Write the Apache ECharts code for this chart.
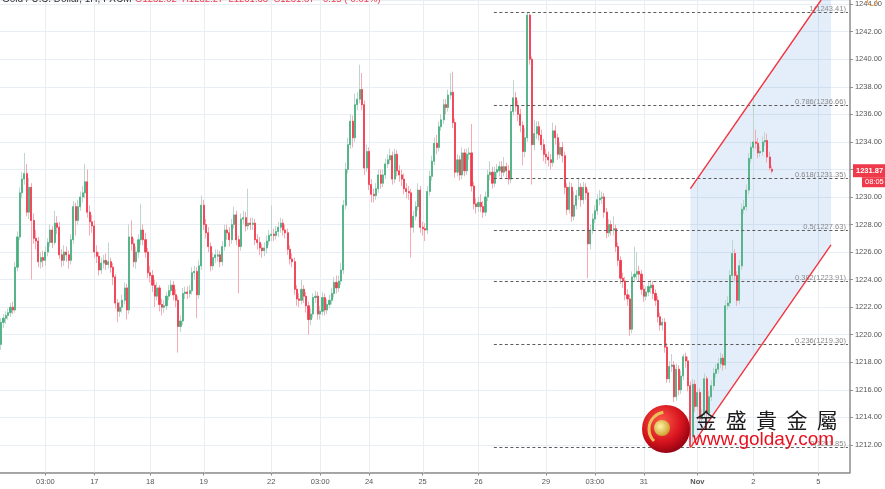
<!DOCTYPE html>
<html><head><meta charset="utf-8">
<script src="https://cdn.jsdelivr.net/npm/echarts@6/dist/echarts.min.js"></script>
<style>html,body{margin:0;padding:0;background:#fff}#c{width:885px;height:489px}</style>
</head><body><div id="c"></div>
<script>
// ---- candles [open, close, low, high], hourly, grouped by trading day ----
const oct16 = [
[1219.3,1220.9,1218.9,1221.2],[1220.9,1221.2,1220.5,1221.5],[1221.2,1221.4,1220.8,1221.7],[1221.4,1221.6,1221.1,1221.9],
[1221.6,1222.0,1221.3,1222.3],[1222.0,1221.8,1221.5,1222.4],[1221.8,1224.9,1221.6,1225.3],[1224.9,1227.1,1224.6,1227.5],
[1227.1,1230.3,1226.9,1230.7],[1230.3,1231.3,1229.9,1231.8],[1231.3,1231.7,1230.9,1233.2],[1231.7,1228.9,1228.6,1232.4],
[1228.9,1230.7,1228.4,1231.4],[1230.7,1228.3,1224.0,1231.0],[1228.3,1227.0,1226.6,1228.8],[1227.0,1226.8,1226.2,1227.6],
[1226.8,1225.3,1224.9,1227.1],[1225.3,1225.6,1224.8,1226.0],[1225.6,1225.4,1224.9,1226.1],[1225.4,1226.0,1225.0,1226.4],
[1226.0,1226.7,1225.7,1227.0],[1226.7,1227.6,1226.4,1228.0],[1227.6,1226.7,1226.3,1227.9],[1226.7,1228.1,1226.5,1229.0],
[1228.1,1227.8,1227.3,1228.6],[1227.8,1225.8,1225.5,1228.2],[1225.8,1225.4,1224.9,1226.2],[1225.4,1226.0,1225.0,1226.5],
[1226.0,1225.8,1225.3,1226.4],[1225.8,1225.4,1224.8,1226.1],[1225.4,1226.9,1225.1,1227.3],[1226.9,1229.3,1226.6,1229.7],
[1229.3,1228.3,1227.2,1229.6],[1228.3,1229.3,1228.0,1229.8],[1229.3,1230.0,1229.0,1230.4],[1230.0,1230.3,1229.6,1230.8],
[1230.3,1231.1,1229.9,1232.4],[1231.1,1228.9,1228.5,1232.0],[1228.9,1228.2,1227.2,1229.4],[1228.2,1227.9,1227.4,1228.7]
];
const oct17 = [
[1227.9,1226.0,1225.6,1228.3],[1226.0,1225.7,1225.2,1226.5],[1225.7,1224.7,1224.3,1226.0],[1224.7,1225.2,1224.4,1225.6],
[1225.2,1225.4,1224.8,1225.8],[1225.4,1225.1,1224.7,1225.9],[1225.1,1225.3,1224.8,1226.7],[1225.3,1224.9,1224.5,1225.6],
[1224.9,1224.2,1223.6,1225.2],[1224.2,1222.3,1221.9,1224.4],[1222.3,1221.7,1220.9,1222.6],[1221.7,1222.0,1221.3,1222.4],
[1222.0,1222.5,1221.6,1222.9],[1222.5,1223.4,1222.2,1223.8],[1223.4,1221.8,1221.1,1223.7],[1221.8,1227.1,1221.5,1228.0],
[1227.1,1226.6,1226.1,1228.3],[1226.6,1225.3,1224.9,1227.0],[1225.3,1226.0,1224.8,1226.4],[1226.0,1226.9,1225.6,1227.3],
[1226.9,1227.6,1226.5,1229.5],[1227.6,1226.9,1226.5,1228.0],[1226.9,1226.0,1225.6,1227.4],[1226.0,1224.5,1224.1,1226.3]
];
const oct18 = [
[1224.5,1224.3,1223.8,1225.0],[1224.3,1223.6,1223.1,1224.7],[1223.6,1222.8,1222.0,1224.0],[1222.8,1223.4,1222.5,1223.8],
[1223.4,1222.2,1221.7,1223.6],[1222.2,1222.0,1221.4,1222.6],[1222.0,1222.1,1221.6,1222.5],[1222.1,1222.8,1221.8,1223.1],
[1222.8,1223.2,1222.5,1223.6],[1223.2,1223.6,1222.9,1224.0],[1223.6,1222.9,1222.5,1223.9],[1222.9,1222.5,1222.0,1223.3],
[1222.5,1220.6,1218.7,1222.8],[1220.6,1221.0,1220.2,1221.4],[1221.0,1223.0,1220.7,1223.4],[1223.0,1223.1,1222.6,1223.5],
[1223.1,1223.0,1222.6,1223.5],[1223.0,1223.2,1222.7,1223.6],[1223.2,1224.5,1222.9,1224.9],[1224.5,1224.6,1224.0,1225.0],
[1224.6,1222.9,1221.2,1224.9],[1222.9,1225.0,1222.6,1225.4],[1225.0,1229.4,1224.7,1230.1]
];
const oct19 = [
[1229.4,1228.0,1227.6,1229.8],[1228.0,1227.4,1227.0,1228.4],[1227.4,1226.4,1226.0,1227.8],[1226.4,1225.0,1224.6,1226.7],
[1225.0,1225.6,1224.7,1226.0],[1225.6,1225.8,1225.2,1226.2],[1225.7,1225.8,1225.3,1226.2],[1225.8,1225.3,1224.9,1226.1],
[1225.3,1226.4,1225.0,1226.8],[1226.4,1227.6,1226.1,1228.0],[1227.6,1227.4,1226.9,1228.0],[1227.4,1226.9,1226.4,1227.8],
[1226.9,1228.0,1226.6,1228.4],[1228.0,1228.7,1227.7,1229.3],[1228.7,1226.9,1226.5,1229.0],[1226.9,1226.4,1223.0,1227.2],
[1226.4,1228.4,1226.1,1228.8],[1228.4,1228.5,1228.0,1229.0],[1228.5,1227.9,1227.5,1228.9],[1227.9,1228.1,1227.6,1230.6],
[1228.1,1228.0,1227.6,1228.5],[1228.0,1228.1,1227.6,1228.5],[1228.1,1226.9,1226.5,1228.4],[1226.9,1226.7,1226.2,1227.3],
[1226.7,1226.3,1225.8,1227.1],[1226.3,1226.1,1225.6,1226.6],[1226.1,1226.3,1225.7,1226.7],[1226.3,1226.8,1225.9,1227.2],
[1226.8,1227.2,1226.5,1227.6]
];
const oct22 = [
[1227.2,1227.3,1226.8,1229.4],[1227.3,1227.2,1226.8,1227.7],[1227.2,1227.5,1226.9,1227.9],[1227.5,1227.8,1227.1,1228.2],
[1227.8,1228.1,1227.4,1228.5],[1228.1,1227.6,1227.2,1228.4],[1227.6,1227.4,1227.0,1228.0],[1227.4,1226.2,1225.8,1227.7],
[1226.2,1225.5,1225.1,1226.5],[1225.5,1225.3,1224.9,1225.9],[1225.3,1223.3,1222.9,1225.6],[1223.3,1222.6,1222.1,1223.6],
[1222.6,1222.5,1222.0,1223.0],[1222.5,1223.3,1222.2,1224.0],[1223.3,1222.8,1222.3,1223.6],[1222.8,1222.1,1221.6,1223.1],
[1222.1,1221.1,1220.0,1222.4],[1221.1,1221.5,1220.7,1221.9],[1221.5,1222.7,1221.2,1223.0],[1222.7,1222.8,1222.3,1223.2],
[1222.8,1221.5,1221.1,1223.1]
];
const oct23 = [
[1221.5,1221.7,1221.1,1222.1],[1221.7,1222.7,1221.4,1223.1],[1222.7,1221.8,1221.4,1223.0],[1221.8,1222.2,1221.5,1222.6],
[1222.2,1222.5,1221.9,1222.9],[1222.5,1223.0,1222.2,1223.4],[1223.0,1223.8,1222.7,1224.2],[1223.8,1223.4,1223.0,1224.3],
[1223.4,1223.9,1223.1,1224.3],[1223.9,1224.7,1223.6,1225.2],[1224.7,1229.4,1224.4,1229.8],[1229.4,1232.0,1229.1,1232.5],
[1232.0,1233.8,1231.7,1234.3],[1233.8,1235.5,1233.5,1236.0],[1235.5,1234.3,1233.6,1235.9],[1234.3,1236.7,1234.0,1237.5],
[1236.7,1237.1,1236.3,1237.6],[1237.1,1237.8,1236.8,1239.6],[1237.8,1236.7,1236.3,1239.0],[1236.7,1232.1,1231.6,1237.0],
[1232.1,1233.3,1231.8,1233.8]
];
const oct24 = [
[1233.3,1230.9,1230.5,1233.6],[1230.9,1230.2,1229.6,1231.3],[1230.2,1230.1,1229.6,1230.6],[1230.1,1230.6,1229.8,1231.0],
[1230.6,1231.6,1230.3,1232.0],[1231.6,1231.0,1230.6,1232.0],[1231.0,1231.6,1230.7,1232.0],[1231.6,1232.4,1231.3,1232.8],
[1232.4,1232.7,1232.1,1233.1],[1232.7,1233.0,1232.4,1233.5],[1233.0,1231.3,1230.9,1233.3],[1231.3,1233.1,1231.0,1233.5],
[1233.1,1231.9,1231.5,1233.4],[1231.9,1231.6,1231.1,1232.3],[1231.6,1231.3,1230.8,1232.0],[1231.3,1230.6,1230.2,1231.7],
[1230.6,1230.4,1229.9,1231.0],[1230.4,1230.3,1229.8,1230.8],[1230.3,1227.8,1225.6,1230.6],[1227.8,1228.6,1227.4,1229.0],
[1228.6,1229.3,1228.3,1229.7],[1229.3,1230.5,1229.0,1231.0],[1230.5,1227.8,1227.4,1230.8]
];
const oct25 = [
[1227.8,1227.7,1227.2,1228.2],[1227.7,1227.6,1226.8,1228.1],[1227.6,1230.4,1227.3,1230.8],[1230.4,1231.5,1230.1,1231.9],
[1231.5,1232.6,1231.2,1233.0],[1232.6,1233.9,1232.3,1234.3],[1233.9,1233.6,1233.1,1234.5],[1233.6,1235.1,1233.3,1235.5],
[1235.1,1235.6,1234.8,1236.0],[1235.6,1236.7,1235.3,1237.1],[1236.7,1236.5,1236.0,1237.1],[1236.5,1237.4,1236.2,1237.8],
[1237.4,1237.6,1237.1,1239.0],[1237.6,1235.4,1235.0,1239.1],[1235.4,1231.8,1231.4,1235.7],[1231.8,1232.7,1231.5,1233.1],
[1232.7,1231.6,1231.2,1233.0],[1231.6,1233.2,1231.3,1233.6],[1233.2,1231.9,1231.5,1233.5],[1231.9,1233.1,1231.6,1233.5],
[1233.1,1233.2,1232.7,1233.6],[1233.2,1230.8,1230.4,1235.3],[1230.8,1229.5,1229.1,1231.1],[1229.5,1229.3,1228.8,1229.9]
];
const oct26 = [
[1229.3,1229.6,1228.9,1230.0],[1229.6,1229.3,1228.9,1230.2],[1229.3,1228.9,1228.5,1229.7],[1228.9,1230.0,1228.6,1230.4],
[1230.0,1231.6,1229.7,1232.0],[1231.6,1231.8,1231.2,1232.6],[1231.8,1231.0,1230.6,1232.2],[1231.0,1231.8,1230.7,1232.2],
[1231.8,1232.0,1231.4,1232.4],[1231.9,1232.2,1231.5,1232.6],[1232.2,1231.8,1231.3,1232.6],[1231.8,1232.2,1231.5,1232.9],
[1232.2,1231.9,1231.4,1232.5],[1231.9,1231.3,1230.9,1232.3],[1231.3,1236.2,1231.0,1236.7],[1236.2,1237.2,1235.9,1238.5],
[1237.2,1236.6,1236.2,1237.6],[1236.6,1236.0,1235.5,1237.0],[1236.0,1235.2,1234.7,1236.4],[1235.2,1233.3,1232.3,1235.5],
[1233.3,1234.3,1232.9,1235.0],[1234.3,1243.2,1234.0,1243.41],[1243.2,1240.0,1239.6,1243.3],[1240.0,1233.8,1230.9,1240.2],
[1233.8,1234.6,1233.4,1235.6],[1234.6,1235.1,1234.2,1235.5],[1235.1,1234.5,1234.1,1235.5],[1234.5,1233.8,1233.4,1234.9],
[1233.8,1233.1,1232.6,1234.2]
];
const oct29 = [
[1233.1,1232.9,1232.4,1233.5],[1232.9,1232.7,1232.2,1233.3],[1232.7,1232.5,1232.0,1233.1],[1232.5,1234.8,1232.2,1235.4],
[1234.8,1234.3,1233.8,1235.2],[1234.3,1233.1,1232.7,1234.6],[1233.1,1233.6,1232.8,1234.0],[1233.6,1233.0,1232.5,1234.0],
[1233.0,1230.7,1230.2,1233.3],[1230.7,1229.1,1228.7,1231.0],[1229.1,1230.7,1228.8,1231.1],[1230.7,1228.6,1228.2,1231.0],
[1228.6,1229.4,1228.3,1230.4],[1229.4,1230.1,1229.1,1230.5],[1230.1,1230.7,1229.8,1231.4],[1230.7,1229.8,1229.3,1231.0],
[1229.8,1230.7,1229.5,1231.1],[1230.7,1230.3,1229.8,1231.0],[1230.3,1226.6,1224.1,1230.6],[1226.6,1227.6,1226.2,1228.0],
[1227.6,1228.4,1227.3,1228.8]
];
const oct30 = [
[1228.4,1229.0,1228.1,1229.4],[1229.0,1229.8,1228.7,1230.2],[1229.8,1229.9,1229.4,1230.5],[1229.9,1230.0,1229.5,1230.4],
[1230.0,1228.9,1228.5,1230.3],[1228.9,1227.4,1227.0,1229.2],[1227.4,1228.0,1227.1,1228.4],[1228.0,1227.6,1227.2,1228.3],
[1227.6,1227.7,1227.2,1228.6],[1227.7,1226.4,1226.0,1228.0],[1226.4,1225.4,1225.0,1226.7],[1225.4,1224.1,1223.7,1225.7],
[1224.1,1223.9,1223.4,1224.5],[1223.9,1222.9,1222.5,1224.2],[1222.9,1222.6,1222.1,1223.3],[1222.6,1220.4,1219.9,1222.9],
[1220.4,1224.2,1220.1,1224.6],[1224.2,1224.4,1223.8,1226.4],[1224.4,1224.6,1224.0,1226.0],[1224.6,1224.4,1223.9,1225.0],
[1224.4,1223.3,1222.9,1224.7]
];
const oct31 = [
[1223.3,1222.8,1222.4,1223.6],[1222.8,1223.1,1222.5,1223.5],[1223.1,1223.5,1222.8,1223.9],[1223.4,1223.6,1223.0,1224.0],
[1223.6,1223.0,1222.6,1223.9],[1223.0,1222.5,1222.1,1223.3],[1222.5,1221.3,1220.9,1222.8],[1221.3,1220.7,1220.3,1221.6],
[1220.7,1220.9,1220.3,1221.2],[1220.9,1219.1,1218.7,1221.2],[1219.1,1216.8,1216.5,1219.4],[1216.8,1217.7,1216.5,1218.1],
[1217.7,1217.8,1217.3,1218.6],[1217.8,1215.5,1215.1,1218.1],[1215.5,1217.5,1215.2,1217.9],[1217.5,1216.0,1215.6,1217.8],
[1216.0,1217.0,1215.7,1217.4],[1217.0,1218.4,1216.7,1218.6],[1218.4,1218.1,1217.6,1218.7],[1218.1,1216.3,1215.9,1218.4],
[1216.3,1211.9,1211.85,1216.6],[1212.6,1216.4,1211.9,1216.8],[1216.4,1214.8,1214.4,1216.7]
];
const nov1 = [
[1214.8,1215.8,1214.5,1216.2],[1215.8,1213.9,1213.5,1216.1],[1213.9,1214.2,1213.6,1214.6],[1214.2,1216.8,1213.9,1217.2],
[1216.8,1214.3,1213.9,1217.0],[1214.3,1215.5,1214.0,1215.9],[1215.5,1216.3,1215.2,1216.7],[1216.3,1217.2,1216.0,1217.6],
[1217.2,1217.5,1216.9,1217.9],[1217.5,1217.9,1217.2,1218.3],[1217.9,1218.3,1217.6,1218.7],[1218.3,1217.8,1217.4,1218.6],
[1217.8,1222.1,1217.5,1222.5],[1222.1,1222.3,1221.8,1222.8],[1222.3,1224.3,1222.0,1224.7],[1224.3,1225.9,1224.0,1226.9],
[1225.9,1224.3,1223.9,1226.2],[1224.3,1222.5,1222.1,1224.6],[1222.5,1225.0,1222.2,1225.4],[1225.0,1229.1,1224.7,1229.5],
[1229.1,1229.3,1228.8,1229.8],[1229.3,1230.5,1229.0,1230.9],[1230.5,1232.8,1230.2,1233.2],[1232.8,1233.6,1232.5,1234.0]
];
const nov2 = [
[1233.6,1234.0,1233.3,1237.4],[1234.0,1233.9,1233.5,1234.9],[1233.9,1233.2,1232.8,1234.3],[1233.2,1233.3,1232.9,1233.7],
[1233.3,1234.0,1233.0,1234.4],[1234.0,1234.1,1233.7,1234.7],[1234.1,1232.9,1232.5,1234.6],[1232.9,1232.1,1231.9,1233.3],
[1232.02,1231.87,1231.7,1232.27]
];

// ---- axis ----
const slotCount = 365;                     // candle slots incl. empty future area
const tickIndex = [19,40,64,87,116,137,158,181,205,234,255,276,299,323,351];
const tickText  = ['03:00','17','18','19','22','03:00','24','25','26','29','03:00','31','Nov','2','5'];
const yMin = 1210, yMax = 1244.3, yStep = 2;

// ---- fibonacci retracement ----
const fibRatios = [0, 0.236, 0.382, 0.5, 0.618, 0.786, 1];
const fibPrices = [1211.85, 1219.30, 1223.91, 1227.63, 1231.35, 1236.66, 1243.41];
const fibFrom = 211.6, fibTo = 364.5;

// ---- channel (slot index, price) ----
const chanX    = [296.0, 356.4];
const chanLow  = [1211.8, 1226.53];
const chanHigh = [1230.6, 1245.34];

const lastPrice = 1231.87, lastTime = '08:05';
const titleText = 'Gold / U.S. Dollar, 1H, FXCM';
const ohlcText = 'O1232.02  H1232.27  L1231.33  C1231.87  -0.15 (-0.01%)';
const logoChars = ['金', '盛', '貴', '金', '屬'];

const candles = [].concat(oct16,oct17,oct18,oct19,oct22,oct23,oct24,oct25,oct26,oct29,oct30,oct31,nov1,nov2);
const bodies = candles.map(d => [d[0], d[1], Math.min(d[0], d[1]), Math.max(d[0], d[1])]);
const categories = [];
for (let i = 0; i < slotCount; i++) { const k = tickIndex.indexOf(i); categories.push(k >= 0 ? tickText[k] : ''); }

const UP = '#45b07c', DOWN = '#ef3a4c', WICK_UP = '#bdd6cf', WICK_DOWN = '#f5aab4';
const FONT = 'Liberation Sans, Arial, sans-serif';

const chart = echarts.init(document.getElementById('c'), null, {renderer: 'canvas'});
chart.setOption({
  animation: false,
  backgroundColor: '#ffffff',
  grid: {left: 0, right: 33, top: 0, height: 472.5, containLabel: false},
  xAxis: [{
    type: 'category', data: categories, boundaryGap: true,
    axisLine: {onZero: false, lineStyle: {color: '#8c8c8c', width: 1.5}},
    axisTick: {show: true, alignWithLabel: true, length: 3, interval: (i, v) => v !== '', lineStyle: {color: '#8c8c8c'}},
    axisLabel: {interval: (i, v) => v !== '', color: '#555', fontSize: 7.5, fontFamily: FONT, margin: 5,
      formatter: v => v === 'Nov' ? '{b|Nov}' : v, rich: {b: {fontWeight: 'bold', fontSize: 7.5, color: '#555', fontFamily: FONT}}},
    splitLine: {show: false}
  }, {
    type: 'value', min: -0.5, max: slotCount - 0.5, show: false,
    axisLine: {show: false, onZero: false}, splitLine: {show: false}
  }],
  yAxis: {
    type: 'value', position: 'right', min: yMin, max: yMax, interval: yStep, scale: true,
    axisLine: {show: true, onZero: false, lineStyle: {color: '#8c8c8c', width: 1.5}},
    axisTick: {show: true, length: 3, lineStyle: {color: '#8c8c8c'}},
    axisLabel: {showMinLabel: false, showMaxLabel: false, color: '#555', fontSize: 7.5, fontFamily: FONT, margin: 5,
      formatter: v => v.toFixed(2)},
    splitLine: {show: true, lineStyle: {color: '#e9eef4', width: 1}}
  },
  series: [
    { // vertical grid lines at the time labels
      type: 'custom', xAxisIndex: 1, z: 1, silent: true,
      data: tickIndex.map(i => [i]),
      renderItem: (params, api) => {
        const cs = params.coordSys; const x = Math.round(api.coord([api.value(0), yMin])[0]) + 0.5;
        return {type: 'line', shape: {x1: x, y1: cs.y, x2: x, y2: cs.y + cs.height}, style: {stroke: '#e9eef4', lineWidth: 1}};
      }
    },
    { // channel shading
      type: 'custom', xAxisIndex: 1, z: 1, silent: true,
      data: [[chanX[0], chanLow[0], chanHigh[0], chanX[1], chanLow[1], chanHigh[1]]],
      renderItem: (params, api) => {
        const top = params.coordSys.y;
        const a = api.coord([api.value(0), api.value(1)]), b = api.coord([api.value(3), api.value(4)]);
        const c = api.coord([api.value(3), api.value(5)]), d = api.coord([api.value(0), api.value(2)]);
        let pts = [a, b, c, d];
        if (c[1] < top) { const t = (top - d[1]) / (c[1] - d[1]); pts = [a, b, [c[0], top], [d[0] + t * (c[0] - d[0]), top], d]; }
        return {type: 'polygon', shape: {points: pts}, style: {fill: 'rgba(56,132,222,0.14)'}};
      }
    },
    { name: 'wick', type: 'candlestick', xAxisIndex: 0, z: 2, barWidth: 1.5, data: candles, silent: true,
      itemStyle: {color: 'rgba(0,0,0,0)', color0: 'rgba(0,0,0,0)', borderColor: WICK_UP, borderColor0: WICK_DOWN, borderWidth: 1}},
    { name: 'body', type: 'candlestick', xAxisIndex: 0, z: 3, barWidth: 1.6, data: bodies, silent: true,
      itemStyle: {color: UP, color0: DOWN, borderColor: UP, borderColor0: DOWN, borderWidth: 0.7}},
    { // fibonacci levels
      type: 'custom', xAxisIndex: 1, z: 4, silent: true,
      data: fibPrices.map((p, k) => [fibFrom, p, fibTo, fibRatios[k]]),
      renderItem: (params, api) => {
        const a = api.coord([api.value(0), api.value(1)]), b = api.coord([api.value(2), api.value(1)]);
        const y = Math.round(a[1]) + 0.5;
        return {type: 'group', children: [
          {type: 'line', shape: {x1: a[0], y1: y, x2: b[0] - 2, y2: y}, style: {stroke: '#5d5d5d', lineWidth: 1.2, lineDash: [3, 2.5]}},
          {type: 'text', x: b[0] - 4, y: y, style: {text: api.value(3) + '(' + api.value(1).toFixed(2) + ')', align: 'right', verticalAlign: 'bottom',
            fill: '#8a8a8a', font: '7.5px ' + FONT}}
        ]};
      }
    },
    { // channel borders
      type: 'custom', xAxisIndex: 1, z: 5, silent: true,
      data: [[chanX[0], chanLow[0], chanHigh[0], chanX[1], chanLow[1], chanHigh[1]]],
      renderItem: (params, api) => {
        const top = params.coordSys.y;
        const a = api.coord([api.value(0), api.value(1)]), b = api.coord([api.value(3), api.value(4)]);
        let c = api.coord([api.value(3), api.value(5)]); const d = api.coord([api.value(0), api.value(2)]);
        if (c[1] < top) { const t = (top - d[1]) / (c[1] - d[1]); c = [d[0] + t * (c[0] - d[0]), top]; }
        return {type: 'group', children: [
          {type: 'line', shape: {x1: a[0], y1: a[1], x2: b[0], y2: b[1]}, style: {stroke: '#f2343e', lineWidth: 1.4}},
          {type: 'line', shape: {x1: d[0], y1: d[1], x2: c[0], y2: c[1]}, style: {stroke: '#f2343e', lineWidth: 1.4}}
        ]};
      }
    }
  ]
});

// price tag on the axis + watermark
const py = chart.convertToPixel({yAxisIndex: 0}, lastPrice);
const logoText = logoChars.map((ch, k) => ({type: 'text', x: 706 + k * 30.3, y: 420, z: 20,
  style: {text: ch, fill: '#1d1d1d', font: '21px "Noto Sans CJK TC"', align: 'center', verticalAlign: 'middle'}}));
chart.setOption({graphic: [
  {type: 'text', x: 2, y: 4.5, z: 10, style: {text: titleText, fill: '#333', font: '10px ' + FONT, verticalAlign: 'bottom'}},
  {type: 'text', x: 135, y: 4.5, z: 10, style: {text: ohlcText, fill: '#ef3a4c', font: '9.5px ' + FONT, verticalAlign: 'bottom'}},
  {type: 'circle', shape: {cx: 872, cy: 1, r: 4.5}, style: {fill: 'none', stroke: '#f39c4a', lineWidth: 1.2}, z: 10},
  {type: 'rect', shape: {x: 853, y: py - 7, width: 32, height: 13}, style: {fill: '#ef3a4c'}, z: 10},
  {type: 'text', x: 856, y: py - 0.5, style: {text: lastPrice.toFixed(2), fill: '#fff', font: 'bold 7.5px ' + FONT, verticalAlign: 'middle'}, z: 11},
  {type: 'rect', shape: {x: 862, y: py + 6, width: 23, height: 10}, style: {fill: '#ef3a4c'}, z: 10},
  {type: 'text', x: 865, y: py + 11, style: {text: lastTime, fill: '#fff', font: '7.5px ' + FONT, verticalAlign: 'middle'}, z: 11},
  // watermark logo
  {type: 'circle', shape: {cx: 666, cy: 429, r: 24}, z: 20,
    style: {fill: new echarts.graphic.RadialGradient(0.4, 0.35, 0.7, [{offset: 0, color: '#ff5a4a'}, {offset: 0.6, color: '#d6141e'}, {offset: 1, color: '#8c0010'}])}},
  {type: 'circle', shape: {cx: 662, cy: 428, r: 8}, z: 21,
    style: {fill: new echarts.graphic.RadialGradient(0.4, 0.4, 0.7, [{offset: 0, color: '#fff3a8'}, {offset: 1, color: '#c8961e'}])}},
  {type: 'arc', shape: {cx: 666, cy: 429, r: 17, startAngle: Math.PI * 0.75, endAngle: Math.PI * 1.45}, z: 21, style: {stroke: '#e9c15a', lineWidth: 3, fill: 'none'}},
  ...logoText,
  {type: 'text', x: 693, y: 440, z: 20, style: {text: 'www.golday.com', fill: '#e8101e', font: '19px ' + FONT, verticalAlign: 'middle'}}
]});
</script>
</body></html>
